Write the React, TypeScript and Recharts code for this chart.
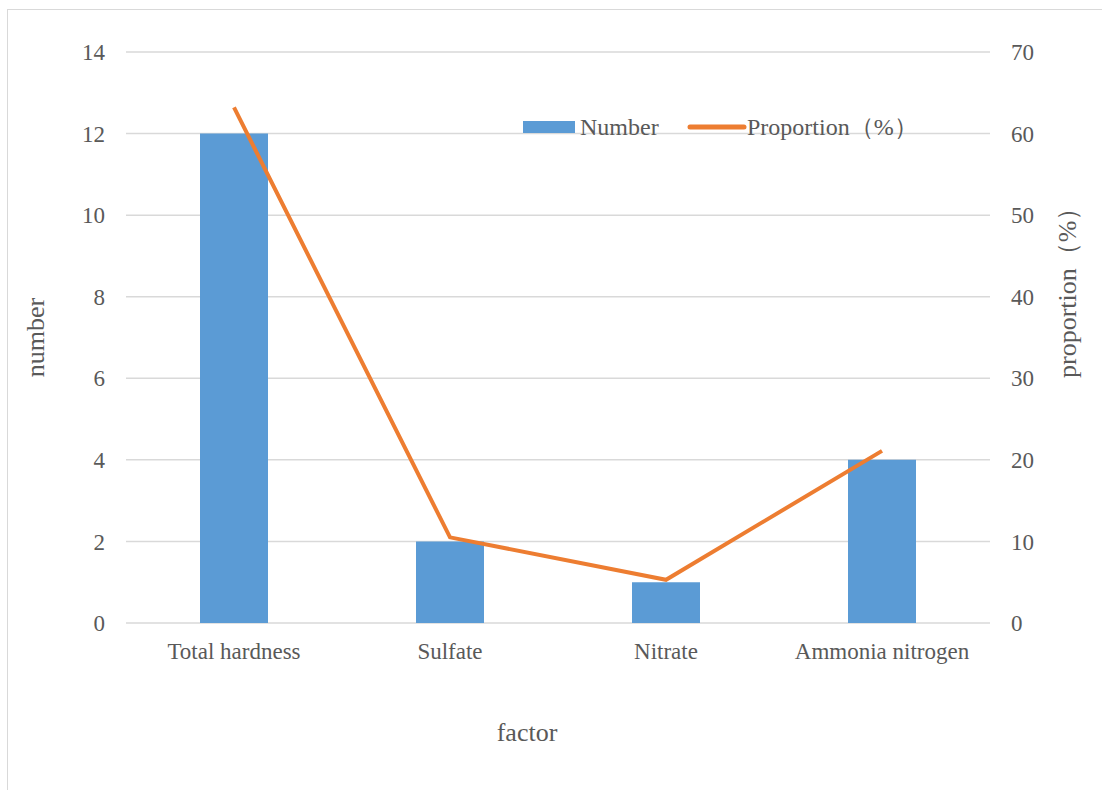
import React from "react";
import {
  Bar,
  CartesianGrid,
  ComposedChart,
  Legend,
  Line,
  XAxis,
  YAxis,
} from "recharts";

const factors = ["Total hardness", "Sulfate", "Nitrate", "Ammonia nitrogen"];
const numberValues = [12, 2, 1, 4];
const proportionValues = [63.2, 10.5, 5.3, 21.1];
const leftTicks = [0, 2, 4, 6, 8, 10, 12, 14];
const rightTicks = [0, 10, 20, 30, 40, 50, 60, 70];

const chartData = factors.map((factor, i) => ({
  factor,
  number: numberValues[i],
  proportion: proportionValues[i],
}));

const textColor = "#595959";
const fontFamily = '"Liberation Serif", "Times New Roman", serif';
const blue = "#5B9BD5";
const orange = "#ED7D31";

function XTick(props: any) {
  const { x, y, payload } = props;
  return (
    <text
      x={x}
      y={y}
      dy="0.71em"
      textAnchor="middle"
      fill={textColor}
      fontSize={23}
      fontFamily={fontFamily}
    >
      {payload.value}
    </text>
  );
}

function YTick(props: any) {
  const { x, y, payload, textAnchor } = props;
  return (
    <text
      x={x}
      y={y}
      dy="0.355em"
      textAnchor={textAnchor}
      fill={textColor}
      fontSize={23}
      fontFamily={fontFamily}
    >
      {payload.value}
    </text>
  );
}

function LeftTitle(props: any) {
  const vb = props.viewBox || {};
  const cy = vb.y + vb.height / 2;
  const x = 35;
  return (
    <text
      x={x}
      y={cy}
      transform={`rotate(-90 ${x} ${cy})`}
      textAnchor="middle"
      dominantBaseline="central"
      fill={textColor}
      fontSize={26}
      fontFamily={fontFamily}
    >
      number
    </text>
  );
}

function RightTitle() {
  const x = 1067;
  const y = 378;
  return (
    <text
      x={x}
      y={y}
      transform={`rotate(-90 ${x} ${y})`}
      textAnchor="start"
      dominantBaseline="central"
      fill={textColor}
      fontSize={26}
      fontFamily={fontFamily}
    >
      proportion（%）
    </text>
  );
}

function BottomTitle() {
  return (
    <text
      x={527}
      y={741}
      textAnchor="middle"
      fill={textColor}
      fontSize={26}
      fontFamily={fontFamily}
    >
      factor
    </text>
  );
}

function LegendContent() {
  return (
    <svg width={420} height={34} style={{ display: "block" }}>
      <rect x={8} y={9} width={52} height={12} fill={blue} />
      <text x={65} y={23} fill={textColor} fontSize={24} fontFamily={fontFamily}>
        Number
      </text>
      <line
        x1={175}
        y1={15}
        x2={229}
        y2={15}
        stroke={orange}
        strokeWidth={5}
        strokeLinecap="round"
      />
      <text x={232} y={23} fill={textColor} fontSize={24} fontFamily={fontFamily}>
        Proportion（%）
      </text>
    </svg>
  );
}

export default function App() {
  return (
    <div
      style={{
        position: "absolute",
        left: 0,
        top: 0,
        width: 1102,
        height: 790,
        overflow: "hidden",
        background: "#fff",
        fontFamily,
      }}
    >
      <div
        style={{
          position: "absolute",
          left: 7,
          top: 9,
          width: 1200,
          height: 900,
          border: "1px solid #d9d9d9",
        }}
      />
      <div style={{ position: "absolute", left: 0, top: 0 }}>
        <ComposedChart
          width={1102}
          height={790}
          data={chartData}
          margin={{ top: 52, right: 0, bottom: 0, left: 0 }}
          accessibilityLayer={false}
        >
          <CartesianGrid vertical={false} stroke="#d9d9d9" strokeWidth={1.5} />
          <XAxis
            dataKey="factor"
            height={133}
            axisLine={false}
            tickLine={false}
            tickMargin={14}
            interval={0}
            tick={<XTick />}
            label={<BottomTitle />}
          />
          <YAxis
            width={126}
            domain={[0, 14]}
            ticks={leftTicks}
            axisLine={false}
            tickLine={false}
            tickMargin={15}
            tick={<YTick />}
            label={<LeftTitle />}
          />
          <YAxis
            yAxisId="right"
            orientation="right"
            width={112}
            domain={[0, 70]}
            ticks={rightTicks}
            axisLine={false}
            tickLine={false}
            tickMargin={15}
            tick={<YTick />}
            label={<RightTitle />}
          />
          <Legend
            content={<LegendContent />}
            wrapperStyle={{ position: "absolute", left: 515, top: 112, width: 420 }}
          />
          <Bar
            dataKey="number"
            name="Number"
            fill={blue}
            barSize={68}
            isAnimationActive={false}
          />
          <Line
            yAxisId="right"
            dataKey="proportion"
            name="Proportion（%）"
            stroke={orange}
            strokeWidth={4}
            dot={false}
            activeDot={false}
            type="linear"
            isAnimationActive={false}
          />
        </ComposedChart>
      </div>
    </div>
  );
}
